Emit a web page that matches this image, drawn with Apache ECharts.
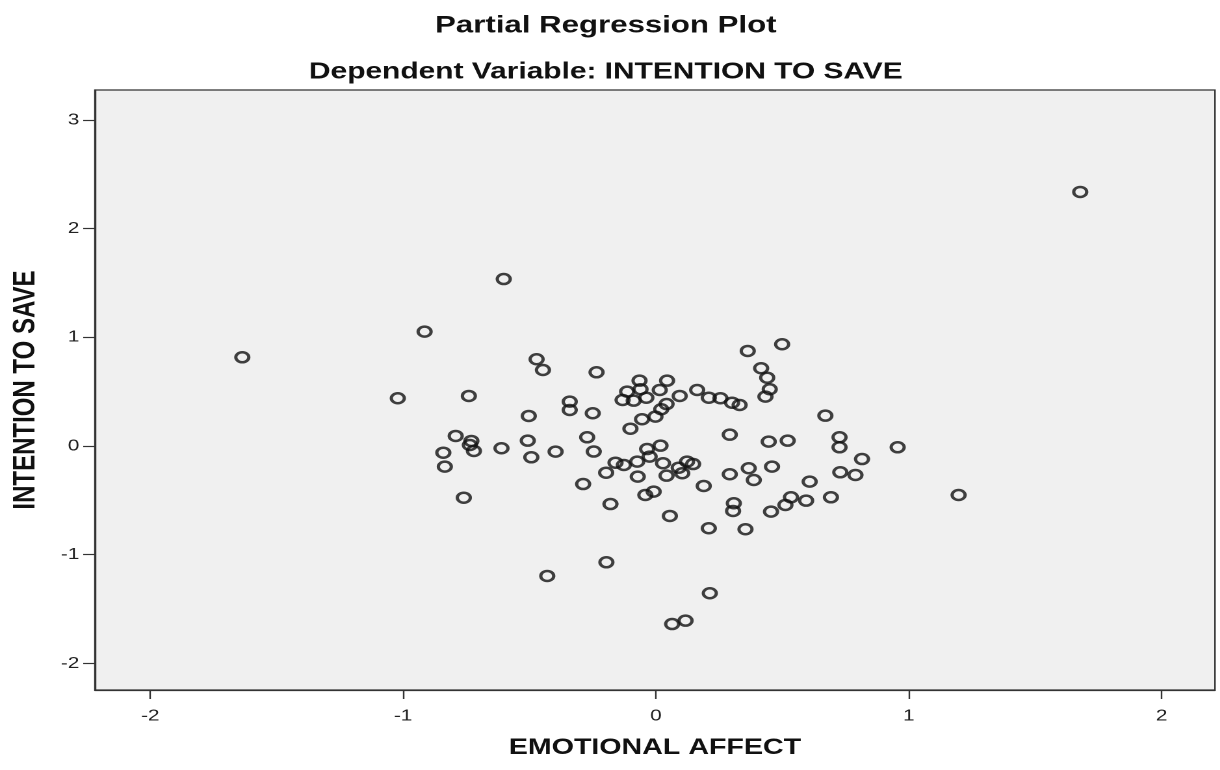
<!DOCTYPE html>
<html>
<head>
<meta charset="utf-8">
<script src="https://cdn.jsdelivr.net/npm/echarts@6/dist/echarts.min.js"></script>
<style>
  html, body { margin: 0; padding: 0; background: #ffffff; overflow: hidden; }
  #chart { width: 938px; height: 770px; transform: scaleX(1.3); transform-origin: 0 0; }
</style>
</head>
<body>
<div id="chart"></div>
<script>
// ---- data ----
const titleText = 'Partial Regression Plot';
const subtitleText = 'Dependent Variable: INTENTION TO SAVE';
const xAxisName = 'EMOTIONAL AFFECT';
const yAxisName = 'INTENTION TO SAVE';
const xTicks = [-2, -1, 0, 1, 2];
const yTicks = [-2, -1, 0, 1, 2, 3];

const emotionalAffect = [
  -1.636, 1.678, -0.602, -0.915, -1.021, -0.740, -0.472, -0.447, -0.235, -0.341,
  -0.341, -0.250, -0.503, -0.792, -0.730, -0.736, -0.720, -0.841, -0.835, -0.611,
  -0.507, -0.493, -0.397, -0.272, -0.246, -0.197, -0.760, -0.288, -0.180, -0.430,
  -0.196, 0.213, 0.064, 0.117, 1.197, -0.065, 0.044, 0.015, -0.061, -0.114,
  -0.132, -0.088, -0.038, 0.094, 0.163, 0.209, 0.255, 0.301, 0.331, 0.042,
  0.021, -0.002, -0.055, -0.101, 0.363, 0.499, 0.416, 0.440, 0.450, 0.433,
  0.292, 0.670, -0.035, 0.018, -0.025, -0.160, -0.127, -0.074, 0.028, 0.123,
  0.147, 0.090, 0.104, 0.042, -0.072, 0.292, 0.367, 0.387, 0.459, 0.189,
  -0.009, -0.042, 0.308, 0.305, 0.055, 0.209, 0.354, 0.455, 0.446, 0.521,
  0.726, 0.726, 0.956, 0.815, 0.608, 0.729, 0.789, 0.534, 0.512, 0.594,
  0.692
];
const intentionToSave = [
  0.816, 2.337, 1.536, 1.052, 0.439, 0.460, 0.798, 0.699, 0.678, 0.408,
  0.331, 0.301, 0.276, 0.092, 0.046, 0.009, -0.046, -0.062, -0.190, -0.021,
  0.049, -0.104, -0.052, 0.080, -0.051, -0.246, -0.476, -0.350, -0.534, -1.196,
  -1.070, -1.355, -1.638, -1.607, -0.451, 0.601, 0.601, 0.515, 0.522, 0.500,
  0.423, 0.417, 0.444, 0.460, 0.515, 0.444, 0.439, 0.398, 0.377, 0.386,
  0.338, 0.270, 0.246, 0.159, 0.874, 0.936, 0.715, 0.628, 0.522, 0.454,
  0.104, 0.279, -0.028, 0.003, -0.098, -0.154, -0.175, -0.144, -0.159, -0.144,
  -0.166, -0.200, -0.251, -0.273, -0.282, -0.260, -0.205, -0.313, -0.190, -0.368,
  -0.420, -0.451, -0.527, -0.598, -0.644, -0.757, -0.766, -0.604, 0.040, 0.049,
  0.080, -0.012, -0.012, -0.120, -0.328, -0.242, -0.267, -0.472, -0.543, -0.503,
  -0.472
];

const points = emotionalAffect.map((x, i) => [x, intentionToSave[i]]);

const FONT = '"Liberation Sans", Arial, Helvetica, sans-serif';
const chart = echarts.init(document.getElementById('chart'), null, {
  width: 938, height: 770, devicePixelRatio: 2, renderer: 'canvas'
});

chart.setOption({
  backgroundColor: '#ffffff',
  animation: false,
  graphic: [
    { type: 'text', x: 466, y: 26, style: { text: titleText, fill: '#111', font: 'bold 24px ' + FONT, textAlign: 'center', textVerticalAlign: 'middle' } },
    { type: 'text', x: 466, y: 72, style: { text: subtitleText, fill: '#111', font: 'bold 23px ' + FONT, textAlign: 'center', textVerticalAlign: 'middle' } }
  ],
  grid: {
    left: 72.3, right: 3.4, top: 90, bottom: 80,
    show: true, backgroundColor: '#f0f0f0', borderColor: '#333333', borderWidth: 1.2
  },
  xAxis: {
    type: 'value',
    min: -2.219, max: 2.211,
    name: xAxisName, nameLocation: 'middle', nameGap: 47,
    nameTextStyle: { fontFamily: FONT, fontWeight: 'bold', fontSize: 22, color: '#111' },
    axisLine: { show: true, onZero: false, lineStyle: { color: '#333333', width: 1.2 } },
    axisTick: { show: true, length: 9, customValues: xTicks, lineStyle: { color: '#333333', width: 1.2 } },
    axisLabel: { customValues: xTicks, margin: 18, fontFamily: FONT, fontSize: 16, color: '#222' },
    splitLine: { show: false }
  },
  yAxis: {
    type: 'value',
    min: -2.245, max: 3.275,
    name: yAxisName, nameLocation: 'middle', nameGap: 41,
    nameTextStyle: { fontFamily: FONT, fontWeight: 'bold', fontSize: 24, color: '#111' },
    axisLine: { show: true, onZero: false, lineStyle: { color: '#333333', width: 1.2 } },
    axisTick: { show: true, length: 9, customValues: yTicks, lineStyle: { color: '#333333', width: 1.2 } },
    axisLabel: { customValues: yTicks, margin: 12, fontFamily: FONT, fontSize: 16, color: '#222' },
    splitLine: { show: false }
  },
  series: [{
    type: 'scatter',
    data: points,
    symbol: 'circle',
    symbolSize: 10,
    itemStyle: { color: 'rgba(0,0,0,0)', borderColor: '#111111', borderWidth: 2.5 },
    emphasis: { disabled: true },
    silent: true
  }]
});
</script>
</body>
</html>
